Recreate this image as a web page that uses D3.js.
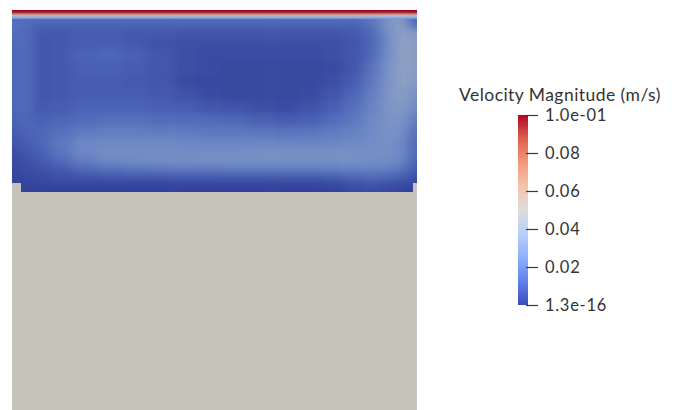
<!DOCTYPE html>
<html>
<head>
<meta charset="utf-8">
<script src="https://cdn.jsdelivr.net/npm/d3@7"></script>
<style>
  html, body { margin: 0; padding: 0; background: #ffffff; }
  svg { display: block; }
</style>
</head>
<body>
<svg id="chart" width="678" height="410"></svg>
<script>
// Sample columns across the cavity (fraction of width)
const colX = [0.010, 0.035, 0.069, 0.119, 0.180, 0.242, 0.304, 0.365, 0.427, 0.489, 0.551,
              0.612, 0.674, 0.736, 0.798, 0.847, 0.889, 0.928, 0.958, 0.978, 0.993];
// Sample rows down the cavity (fraction of depth, 0 = moving lid)
const rowZ = [0.049, 0.077, 0.121, 0.176, 0.247, 0.319, 0.390, 0.462, 0.533, 0.604,
              0.670, 0.731, 0.780, 0.824, 0.868, 0.907, 0.940, 0.967, 0.989];
// Velocity magnitude (m/s) at each sample, one list per row
const speed = [
  [0.016, 0.015, 0.015, 0.015, 0.015, 0.015, 0.015, 0.015, 0.015, 0.015, 0.015, 0.015, 0.015, 0.015, 0.015, 0.015, 0.019, 0.029, 0.036, 0.022, 0.012],
  [0.016, 0.014, 0.012, 0.012, 0.012, 0.012, 0.012, 0.012, 0.012, 0.012, 0.012, 0.012, 0.012, 0.012, 0.012, 0.012, 0.017, 0.029, 0.036, 0.026, 0.012],
  [0.015, 0.014, 0.009, 0.009, 0.010, 0.010, 0.009, 0.009, 0.008, 0.008, 0.008, 0.008, 0.008, 0.008, 0.008, 0.009, 0.014, 0.027, 0.036, 0.036, 0.029],
  [0.014, 0.015, 0.008, 0.009, 0.010, 0.010, 0.009, 0.007, 0.006, 0.006, 0.006, 0.006, 0.006, 0.006, 0.006, 0.008, 0.013, 0.025, 0.036, 0.037, 0.033],
  [0.013, 0.015, 0.008, 0.009, 0.012, 0.013, 0.011, 0.008, 0.006, 0.005, 0.005, 0.005, 0.005, 0.005, 0.006, 0.008, 0.014, 0.026, 0.036, 0.037, 0.033],
  [0.013, 0.015, 0.008, 0.009, 0.011, 0.011, 0.010, 0.008, 0.006, 0.005, 0.004, 0.004, 0.004, 0.004, 0.005, 0.008, 0.017, 0.028, 0.036, 0.037, 0.033],
  [0.013, 0.015, 0.008, 0.009, 0.010, 0.010, 0.009, 0.008, 0.005, 0.004, 0.004, 0.004, 0.004, 0.004, 0.006, 0.010, 0.019, 0.029, 0.036, 0.036, 0.031],
  [0.013, 0.015, 0.008, 0.009, 0.010, 0.010, 0.010, 0.009, 0.007, 0.005, 0.004, 0.004, 0.004, 0.005, 0.008, 0.013, 0.021, 0.030, 0.035, 0.033, 0.028],
  [0.013, 0.014, 0.009, 0.010, 0.012, 0.012, 0.012, 0.011, 0.010, 0.008, 0.007, 0.006, 0.005, 0.007, 0.011, 0.016, 0.023, 0.030, 0.033, 0.030, 0.025],
  [0.012, 0.013, 0.011, 0.013, 0.015, 0.016, 0.016, 0.015, 0.015, 0.014, 0.013, 0.011, 0.010, 0.011, 0.015, 0.019, 0.025, 0.029, 0.031, 0.025, 0.020],
  [0.010, 0.012, 0.013, 0.016, 0.020, 0.021, 0.021, 0.020, 0.020, 0.019, 0.019, 0.018, 0.017, 0.018, 0.020, 0.022, 0.026, 0.029, 0.029, 0.021, 0.016],
  [0.008, 0.010, 0.013, 0.019, 0.024, 0.025, 0.025, 0.025, 0.024, 0.024, 0.024, 0.024, 0.023, 0.023, 0.024, 0.025, 0.027, 0.028, 0.027, 0.019, 0.014],
  [0.006, 0.008, 0.011, 0.018, 0.025, 0.027, 0.027, 0.027, 0.027, 0.027, 0.027, 0.028, 0.028, 0.028, 0.028, 0.028, 0.028, 0.028, 0.026, 0.019, 0.014],
  [0.005, 0.006, 0.009, 0.015, 0.021, 0.025, 0.026, 0.027, 0.027, 0.028, 0.028, 0.028, 0.028, 0.028, 0.028, 0.028, 0.027, 0.027, 0.025, 0.018, 0.012],
  [0.004, 0.005, 0.007, 0.010, 0.015, 0.018, 0.019, 0.020, 0.021, 0.021, 0.022, 0.022, 0.022, 0.022, 0.022, 0.023, 0.023, 0.022, 0.020, 0.014, 0.010],
  [0.003, 0.004, 0.005, 0.007, 0.009, 0.010, 0.011, 0.011, 0.012, 0.012, 0.012, 0.012, 0.012, 0.012, 0.013, 0.015, 0.016, 0.015, 0.013, 0.009, 0.006],
  [0.003, 0.003, 0.004, 0.005, 0.005, 0.005, 0.005, 0.005, 0.005, 0.005, 0.005, 0.005, 0.005, 0.005, 0.006, 0.009, 0.010, 0.009, 0.007, 0.005, 0.004],
  [0.003, 0.003, 0.003, 0.003, 0.003, 0.003, 0.003, 0.003, 0.003, 0.003, 0.003, 0.003, 0.003, 0.003, 0.004, 0.006, 0.007, 0.006, 0.004, 0.003, 0.003],
  [0.002, 0.002, 0.002, 0.002, 0.002, 0.002, 0.002, 0.002, 0.002, 0.002, 0.002, 0.002, 0.002, 0.002, 0.002, 0.004, 0.005, 0.004, 0.003, 0.002, 0.002]
];
// Thin boundary layer under the moving lid (fraction of depth, m/s)
const lidZ = [0.000, 0.006, 0.012, 0.018, 0.024, 0.030, 0.036, 0.042];
const lidSpeed = [0.100, 0.099, 0.094, 0.082, 0.066, 0.050, 0.036, 0.024];

// Cool-to-warm diverging map
const mapValues = [0, 0.125, 0.25, 0.375, 0.5, 0.625, 0.75, 0.875, 1];
const mapColors = ["#3b4cc0", "#6282ea", "#8db0fe", "#b8d0f9", "#dddddd", "#f5c4a9", "#f49a7b", "#de604d", "#b40426"];

const barTicks = [1.0e-1, 0.08, 0.06, 0.04, 0.02, 1.3e-16];
const barTickLabels = ["1.0e-01", "0.08", "0.06", "0.04", "0.02", "1.3e-16"];
const barTitle = "Velocity Magnitude (m/s)";
const vMax = 0.1;

const svg = d3.select("#chart");
const defs = svg.append("defs");

const color = d3.scaleLinear().domain(mapValues).range(mapColors).interpolate(d3.interpolateRgb).clamp(true);
const shade = (v, k) => {
  const c = d3.rgb(color(v / vMax));
  return d3.rgb(c.r * k, c.g * k, c.b * k).formatHex();
};

// Cavity geometry
const x = d3.scaleLinear().domain([0, 1]).range([12, 417]);
const z = d3.scaleLinear().domain([0, 1]).range([10, 192]);

// Solid region beneath the fluid
svg.append("rect")
  .attr("x", x(0)).attr("y", z(0.94))
  .attr("width", x(1) - x(0)).attr("height", 410 - z(0.94))
  .attr("fill", "#c6c3bb");

// Fluid outline: main box plus slightly narrower bottom strip
const outline = [[0, 0], [1, 0], [1, 0.9505], [0.99, 0.9505], [0.99, 1], [0.0222, 1], [0.0222, 0.9505], [0, 0.9505]];
defs.append("clipPath").attr("id", "fluidClip")
  .append("path")
  .attr("d", d3.line().x(d => x(d[0])).y(d => z(d[1]))(outline) + "Z");

const blur = defs.append("filter").attr("id", "smooth")
  .attr("x", "-5%").attr("y", "-5%").attr("width", "110%").attr("height", "110%");
blur.append("feGaussianBlur").attr("stdDeviation", "6 3");

const edges = (arr, lo, hi) => {
  const e = [lo];
  for (let i = 1; i < arr.length; i++) e.push((arr[i - 1] + arr[i]) / 2);
  e.push(hi);
  return e;
};
const xe = edges(colX, -0.05, 1.05);
const ze = edges(rowZ, -0.03, 1.08);

const cells = [];
speed.forEach((row, j) => row.forEach((v, i) => cells.push({ i, j, v })));

const fluid = svg.append("g").attr("clip-path", "url(#fluidClip)");
fluid.append("g").attr("filter", "url(#smooth)")
  .selectAll("rect").data(cells).join("rect")
  .attr("x", d => x(xe[d.i]))
  .attr("y", d => z(ze[d.j]))
  .attr("width", d => x(xe[d.i + 1]) - x(xe[d.i]) + 0.5)
  .attr("height", d => z(ze[d.j + 1]) - z(ze[d.j]) + 0.5)
  .attr("fill", d => shade(d.v, 0.78));

// Lid boundary layer on top
const lidEdges = lidZ.concat([lidZ[lidZ.length - 1] + (lidZ[1] - lidZ[0])]);
fluid.append("g").selectAll("rect").data(lidSpeed).join("rect")
  .attr("x", x(0))
  .attr("y", (d, k) => z(lidEdges[k]))
  .attr("width", x(1) - x(0))
  .attr("height", (d, k) => z(lidEdges[k + 1]) - z(lidEdges[k]) + 0.2)
  .attr("fill", d => shade(d, 0.9));

// Colour bar
const bar = { x: 518, w: 10, top: 115, bottom: 305 };
const yBar = d3.scaleLinear().domain([0, vMax]).range([bar.bottom, bar.top]);
const grad = defs.append("linearGradient").attr("id", "barGrad")
  .attr("x1", 0).attr("y1", 1).attr("x2", 0).attr("y2", 0);
grad.selectAll("stop").data(mapValues).join("stop")
  .attr("offset", d => d)
  .attr("stop-color", (d, k) => mapColors[k]);
svg.append("rect")
  .attr("x", bar.x).attr("y", yBar(vMax))
  .attr("width", bar.w).attr("height", yBar(0) - yBar(vMax))
  .attr("fill", "url(#barGrad)");

const tickG = svg.append("g").selectAll("g").data(barTicks).join("g")
  .attr("transform", d => `translate(0,${yBar(d)})`);
tickG.append("line")
  .attr("x1", 526).attr("x2", 538).attr("y1", 0.5).attr("y2", 0.5)
  .attr("stroke", "#3a3a3a").attr("stroke-width", 1.2);
tickG.append("text")
  .attr("x", 545).attr("y", 6)
  .attr("font-family", "Lato, 'Open Sans', sans-serif")
  .attr("font-size", 16.5)
  .attr("letter-spacing", 0.7)
  .attr("fill", "#333333")
  .text((d, k) => barTickLabels[k]);

svg.append("text")
  .attr("x", 459).attr("y", 101)
  .attr("font-family", "Lato, 'Open Sans', sans-serif")
  .attr("font-size", 17.5)
  .attr("letter-spacing", 0.45)
  .attr("fill", "#333333")
  .text(barTitle);
</script>
</body>
</html>
